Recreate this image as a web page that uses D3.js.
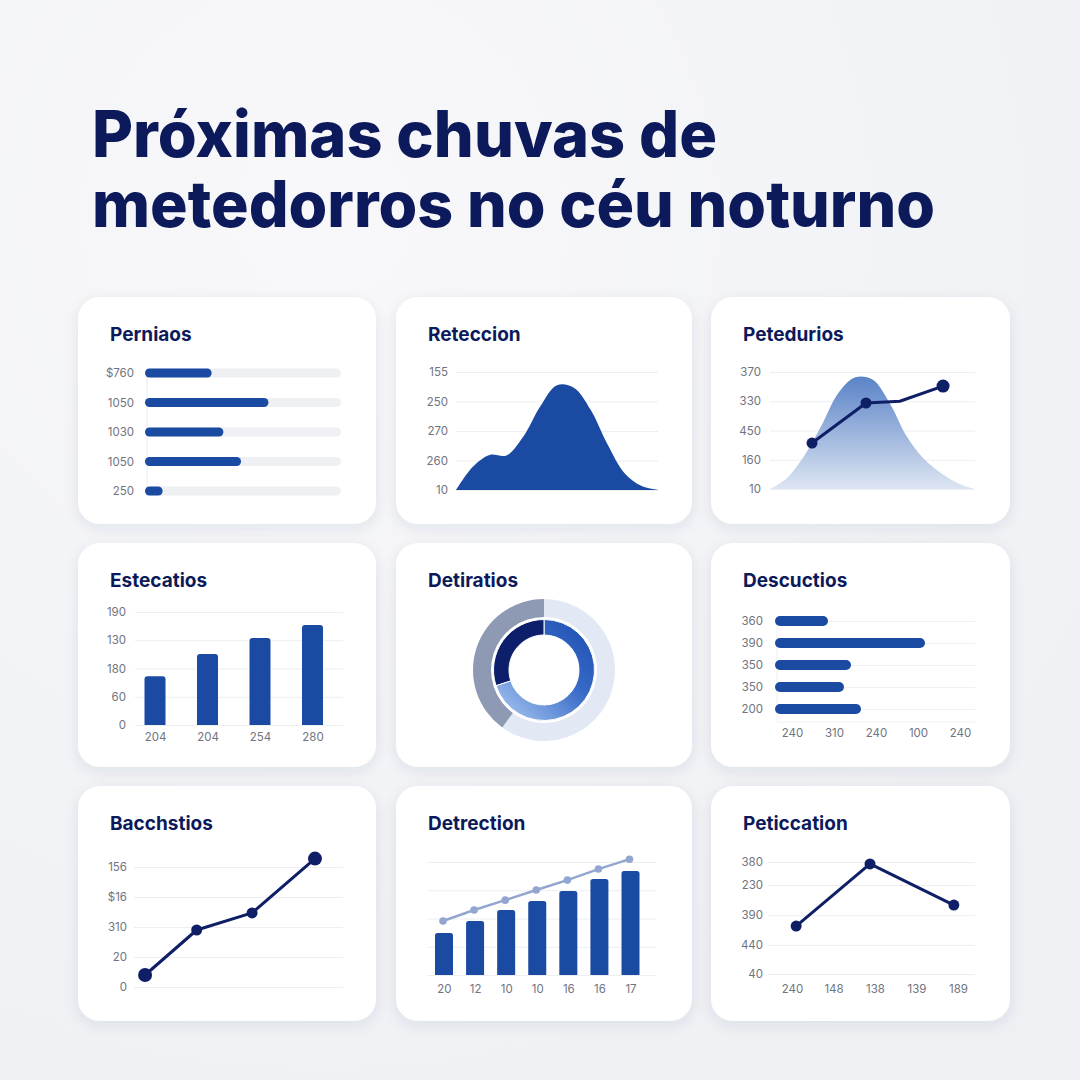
<!DOCTYPE html>
<html><head><meta charset="utf-8">
<script src="https://cdn.jsdelivr.net/npm/d3@7/dist/d3.min.js"></script>
<style>
html,body{margin:0;padding:0;background:#f3f4f7;}
svg{display:block;}
</style></head><body>
<svg id="chart" width="1080" height="1080"></svg>
<script>
// ================= DATA =================
const titleLines = ["Próximas chuvas de", "metedorros no céu noturno"];
const panelTitles = ["Perniaos","Reteccion","Petedurios","Estecatios","Detiratios","Descuctios","Bacchstios","Detrection","Peticcation"];

// Panel 1 – horizontal progress bars
const p1Labels = ["$760","1050","1030","1050","250"];
const p1Values = [34, 63, 40, 49, 9];

// Panel 2 – area
const p2TickLabels = ["10","260","270","250","155"];
const p2Values = [0,0.79,1.19,1.17,1.81,2.83,3.55,3.47,2.72,1.55,0.58,0.14,0];

// Panel 3 – gradient bell + line
const p3TickLabels = ["10","160","450","330","370"];
const p3Curve = [0,0.38,1.13,2.15,3.28,3.82,3.74,2.94,1.8,1.03,0.55,0.2,0];
const p3LineX = [2.46,5.62,7.6,10.13];
const p3LineY = [1.57,2.94,3.0,3.52];
const p3HasMarker = [true,true,false,true];

// Panel 4 – vertical bars
const p4TickLabels = ["0","60","180","130","190"];
const p4Cats = ["204","204 ","254","280"];
const p4Values = [1.73,2.51,3.08,3.54];

// Panel 5 – double donut
const p5Outer = [60,40];
const p5Inner = [70,30];

// Panel 6 – horizontal bars
const p6Labels = ["360","390","350","350","200"];
const p6Values = [26.5,75,38,34.5,43];
const p6TickLabels = ["240","310","240","100","240"];
const p6TickVals = [8.5,29.5,50.5,71.5,92.5];

// Panel 7 – line
const p7TickLabels = ["0","20","310","$16","156"];
const p7X = [0.53,3.0,5.65,8.66];
const p7Y = [0.4,1.9,2.47,4.28];

// Panel 8 – bars + trend line
const p8Cats = ["20","12","10","10 ","16","16 ","17"];
const p8Bars = [1.49,1.91,2.30,2.62,2.97,3.40,3.68];
const p8Line = [1.91,2.30,2.65,3.01,3.36,3.75,4.1];

// Panel 9 – line
const p9TickLabels = ["40","440","390","230","380"];
const p9TickVals = [0,1.04,2.1,3.18,4];
const p9Cats = ["240","148","138","139","189"];
const p9X = [0.1,1.88,3.9];
const p9Y = [1.71,3.93,2.46];

// ================= STYLE =================
const NAVY = "#0c1a5b", BLUE = "#1b4aa3", LINE = "#0f1f66", GRID = "#eceef2", TXT = "#707480";
const FONT = "Inter, 'Noto Sans', sans-serif";

const svg = d3.select("#chart");
const defs = svg.append("defs");

const bg = defs.append("radialGradient").attr("id","bg").attr("cx","30%").attr("cy","20%").attr("r","90%");
bg.append("stop").attr("offset","0%").attr("stop-color","#f8f8fa");
bg.append("stop").attr("offset","100%").attr("stop-color","#eef0f4");

const sh = defs.append("filter").attr("id","shadow").attr("x","-20%").attr("y","-20%").attr("width","140%").attr("height","150%");
sh.append("feDropShadow").attr("dx",0).attr("dy",4).attr("stdDeviation",7)
  .attr("flood-color","#1d2a50").attr("flood-opacity",0.09);

const g3 = defs.append("linearGradient").attr("id","bell").attr("x1",0).attr("y1",0).attr("x2",0).attr("y2",1);
g3.append("stop").attr("offset","0%").attr("stop-color","#5a83c7");
g3.append("stop").attr("offset","100%").attr("stop-color","#dde5f2");

// gradient in the donut's local (centred) coordinates
const g5 = defs.append("linearGradient").attr("id","ringBlue").attr("gradientUnits","userSpaceOnUse")
  .attr("x1",36).attr("y1",-34).attr("x2",-32).attr("y2",36);
g5.append("stop").attr("offset","0%").attr("stop-color","#2457b7");
g5.append("stop").attr("offset","40%").attr("stop-color","#386bc7");
g5.append("stop").attr("offset","100%").attr("stop-color","#8fb2e8");

svg.append("rect").attr("width",1080).attr("height",1080).attr("fill","url(#bg)");

// Title (one text element, two lines)
const tLen = [625, 843];
const title = svg.append("text").attr("font-family",FONT).attr("font-weight",800)
  .attr("font-size",64).attr("fill",NAVY);
titleLines.forEach((t,i)=>{
  title.append("tspan").attr("x",92).attr("y",157 + i*70)
    .attr("textLength",tLen[i]).attr("lengthAdjust","spacingAndGlyphs").text(t);
});

// Cards
const cardBoxes = [
  [78,297,298,227],[396,297,296,227],[711,297,299,227],
  [78,543,298,224],[396,543,296,224],[711,543,299,224],
  [78,786,298,235],[396,786,296,235],[711,786,299,235]];
cardBoxes.forEach((b,i)=>{
  svg.append("rect").attr("x",b[0]).attr("y",b[1]).attr("width",b[2]).attr("height",b[3])
    .attr("rx",22).attr("fill","#fff").attr("filter","url(#shadow)");
  svg.append("text").attr("x",b[0]+32).attr("y",b[1]+44)
    .attr("font-family",FONT).attr("font-weight",700).attr("font-size",19).attr("fill",NAVY)
    .text(panelTitles[i]);
});

function styleText(sel){
  sel.attr("font-family",FONT).attr("font-size",11.5).attr("fill",TXT).attr("stroke","none");
}
function leftLabels(scale, vals, labels, xRight){
  const g = svg.append("g").attr("transform",`translate(${xRight},0)`)
    .call(d3.axisLeft(scale).tickValues(vals).tickSize(0).tickPadding(0).tickFormat((d,i)=>labels[i]));
  g.select(".domain").remove();
  g.attr("font-family",null).attr("font-size",null);
  styleText(g.selectAll("text"));
  return g;
}
function gridLines(scale, vals, x0, x1, color){
  const g = svg.append("g").attr("transform",`translate(${x0},0)`)
    .call(d3.axisLeft(scale).tickValues(vals).tickSize(-(x1-x0)).tickFormat(""));
  g.select(".domain").remove();
  g.selectAll("line").attr("stroke",color||GRID).attr("stroke-width",1);
  return g;
}
function bottomLabels(scale, vals, labels, y, pad){
  const g = svg.append("g").attr("transform",`translate(0,${y})`)
    .call(d3.axisBottom(scale).tickValues(vals).tickSize(0).tickPadding(pad).tickFormat((d,i)=>labels[i]));
  g.select(".domain").remove();
  g.attr("font-family",null).attr("font-size",null);
  styleText(g.selectAll("text"));
  return g;
}
const idx = n => d3.range(n);

// ---------- Panel 1 ----------
{
  const y = d3.scalePoint().domain(idx(p1Values.length)).range([373,491]);
  const x = d3.scaleLinear().domain([0,100]).range([145,341]);
  svg.append("line").attr("x1",147).attr("x2",147).attr("y1",y(0)).attr("y2",y(4)+5).attr("stroke","#e9ebef");
  svg.append("g").selectAll("rect").data(p1Values).join("rect")
    .attr("x",x(0)).attr("y",(d,i)=>y(i)-4.5).attr("width",x(100)-x(0)).attr("height",9).attr("rx",4.5).attr("fill","#eff0f3");
  svg.append("g").selectAll("rect").data(p1Values).join("rect")
    .attr("x",x(0)).attr("y",(d,i)=>y(i)-4.5).attr("width",d=>x(d)-x(0)).attr("height",9).attr("rx",4.5).attr("fill",BLUE);
  leftLabels(y, idx(5), p1Labels, 134);
}

// ---------- Panel 2 ----------
{
  const y = d3.scaleLinear().domain([0,4]).range([490,372]);
  const x = d3.scaleLinear().domain([0,p2Values.length-1]).range([456,658]);
  gridLines(y,[0,1,2,3,4],456,658);
  svg.append("path").datum(p2Values)
    .attr("d", d3.area().x((d,i)=>x(i)).y0(y(0)).y1(d=>y(d)).curve(d3.curveCatmullRom.alpha(0.5)))
    .attr("fill",BLUE);
  leftLabels(y,[0,1,2,3,4],p2TickLabels,448);
}

// ---------- Panel 3 ----------
{
  const y = d3.scaleLinear().domain([0,4]).range([489,372]);
  const x = d3.scaleLinear().domain([0,p3Curve.length-1]).range([770,975]);
  gridLines(y,[0,1,2,3,4],770,975);
  svg.append("path").datum(p3Curve)
    .attr("d", d3.area().x((d,i)=>x(i)).y0(y(0)).y1(d=>y(d)).curve(d3.curveCatmullRom.alpha(0.5)))
    .attr("fill","url(#bell)");
  const pts = p3LineX.map((v,i)=>[x(v), y(p3LineY[i]), p3HasMarker[i]]);
  svg.append("path").datum(pts).attr("d",d3.line().x(d=>d[0]).y(d=>d[1]))
    .attr("fill","none").attr("stroke",LINE).attr("stroke-width",3).attr("stroke-linejoin","round");
  svg.append("g").selectAll("circle").data(pts.filter(d=>d[2])).join("circle")
    .attr("cx",d=>d[0]).attr("cy",d=>d[1]).attr("r",(d,i)=>i===2?6.5:5.5).attr("fill",LINE);
  leftLabels(y,[0,1,2,3,4],p3TickLabels,761);
}

// ---------- Panel 4 ----------
{
  const y = d3.scaleLinear().domain([0,4]).range([725,612]);
  const x = d3.scalePoint().domain(p4Cats).range([155,312.5]);
  gridLines(y,[0,1,2,3,4],135,343);
  const bw = 21;
  svg.append("g").selectAll("path").data(p4Values).join("path")
    .attr("d",(d,i)=>{
      const x0 = x(p4Cats[i])-bw/2, x1 = x0+bw, yt = y(d), yb = y(0), r = 3;
      return `M${x0},${yb}V${yt+r}Q${x0},${yt} ${x0+r},${yt}H${x1-r}Q${x1},${yt} ${x1},${yt+r}V${yb}Z`;
    }).attr("fill",BLUE);
  leftLabels(y,[0,1,2,3,4],p4TickLabels,126);
  bottomLabels(x,p4Cats,p4Cats,725,8);
}

// ---------- Panel 5 ----------
{
  const cx = 544, cy = 670;
  const pie = d3.pie().sort(null).value(d=>d);
  const outerArc = d3.arc().innerRadius(53).outerRadius(71);
  const innerArc = d3.arc().innerRadius(35).outerRadius(50.5);
  const g = svg.append("g").attr("transform",`translate(${cx},${cy})`);
  const outerCols = ["#e3e9f4","#8e99b3"];
  const innerCols = ["url(#ringBlue)","#0d1f6b"];
  g.selectAll("path.o").data(pie(p5Outer)).join("path").attr("class","o")
    .attr("d",outerArc).attr("fill",(d,i)=>outerCols[i]);
  g.selectAll("path.i").data(pie(p5Inner)).join("path").attr("class","i")
    .attr("d",innerArc).attr("fill",(d,i)=>innerCols[i]).attr("stroke","#fff").attr("stroke-width",1);
}

// ---------- Panel 6 ----------
{
  const y = d3.scalePoint().domain(idx(p6Values.length)).range([621,709]);
  const x = d3.scaleLinear().domain([0,100]).range([775,975]);
  gridLines(y,idx(5),775,975,"#f0f1f4");
  svg.append("line").attr("x1",777).attr("x2",777).attr("y1",621).attr("y2",722).attr("stroke","#eef0f3");
  svg.append("line").attr("x1",777).attr("x2",975).attr("y1",722).attr("y2",722).attr("stroke","#eef0f3");
  svg.append("g").selectAll("rect").data(p6Values).join("rect")
    .attr("x",x(0)).attr("y",(d,i)=>y(i)-5).attr("width",d=>x(d)-x(0)).attr("height",10).attr("rx",5).attr("fill",BLUE);
  leftLabels(y,idx(5),p6Labels,763);
  bottomLabels(x,p6TickVals,p6TickLabels,722,7);
}

// ---------- Panel 7 ----------
{
  const y = d3.scaleLinear().domain([0,4]).range([987,867]);
  const x = d3.scaleLinear().domain([0,10]).range([134,343]);
  gridLines(y,[0,1,2,3,4],134,343);
  const pts = p7X.map((v,i)=>[x(v),y(p7Y[i])]);
  svg.append("path").datum(pts).attr("d",d3.line())
    .attr("fill","none").attr("stroke",LINE).attr("stroke-width",3).attr("stroke-linejoin","round");
  svg.append("g").selectAll("circle").data(pts).join("circle")
    .attr("cx",d=>d[0]).attr("cy",d=>d[1]).attr("r",(d,i)=>(i===0||i===3)?7:5.5).attr("fill",LINE);
  leftLabels(y,[0,1,2,3,4],p7TickLabels,127);
}

// ---------- Panel 8 ----------
{
  const y = d3.scaleLinear().domain([0,4]).range([975,862]);
  const x = d3.scalePoint().domain(p8Cats).range([444,630.5]);
  gridLines(y,[0,1,2,3,4],427,656);
  const bw = 18;
  svg.append("g").selectAll("path").data(p8Bars).join("path")
    .attr("d",(d,i)=>{
      const x0 = x(p8Cats[i])-bw/2, x1 = x0+bw, yt = y(d), yb = y(0), r = 2.5;
      return `M${x0},${yb}V${yt+r}Q${x0},${yt} ${x0+r},${yt}H${x1-r}Q${x1},${yt} ${x1},${yt+r}V${yb}Z`;
    }).attr("fill",BLUE);
  const pts = p8Line.map((v,i)=>[x(p8Cats[i])-1,y(v)]);
  svg.append("path").datum(pts).attr("d",d3.line())
    .attr("fill","none").attr("stroke","#93a6cf").attr("stroke-width",2.5);
  svg.append("g").selectAll("circle").data(pts).join("circle")
    .attr("cx",d=>d[0]).attr("cy",d=>d[1]).attr("r",3.8).attr("fill","#93a6cf");
  bottomLabels(x,p8Cats,p8Cats,975,10);
}

// ---------- Panel 9 ----------
{
  const y = d3.scaleLinear().domain([0,4]).range([974,862]);
  const x = d3.scaleLinear().domain([0,4]).range([792,958]);
  gridLines(y,p9TickVals,768,975);
  const pts = p9X.map((v,i)=>[x(v),y(p9Y[i])]);
  svg.append("path").datum(pts).attr("d",d3.line())
    .attr("fill","none").attr("stroke",LINE).attr("stroke-width",3).attr("stroke-linejoin","round");
  svg.append("g").selectAll("circle").data(pts).join("circle")
    .attr("cx",d=>d[0]).attr("cy",d=>d[1]).attr("r",5.5).attr("fill",LINE);
  leftLabels(y,p9TickVals,p9TickLabels,763);
  bottomLabels(x,[0,1,2,3,4],p9Cats,974,11);
}
</script>
</body></html>
